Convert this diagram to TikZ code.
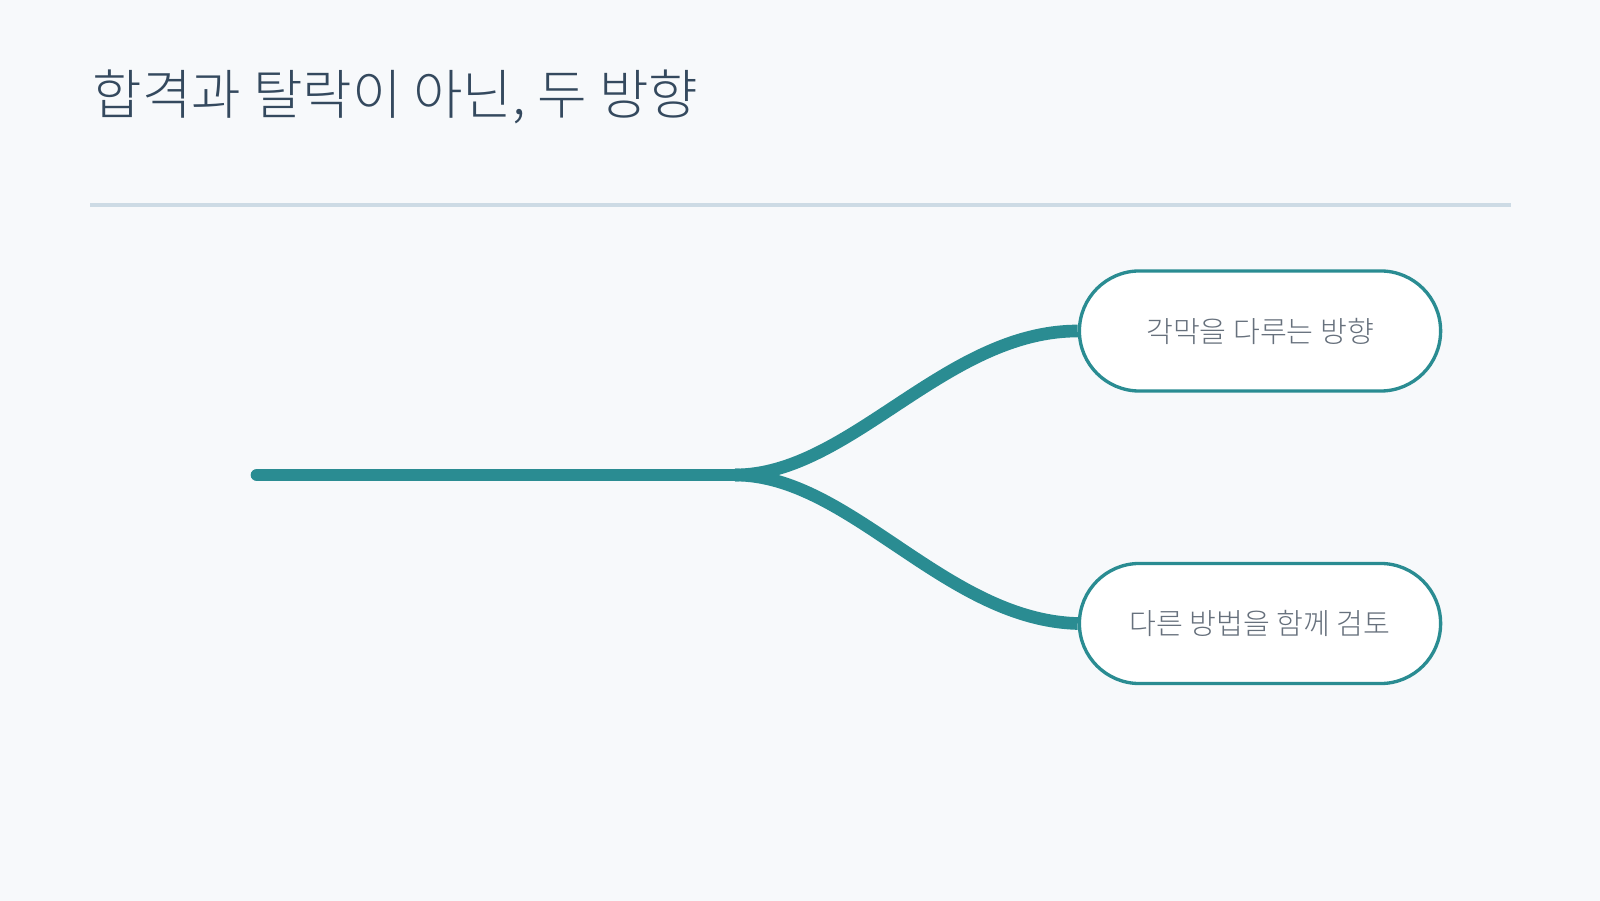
\documentclass[tikz,border=0pt]{standalone}
\usepackage{fontspec}
\setmainfont{Noto Sans CJK KR Light}
\usepackage{tikz}
\usetikzlibrary{positioning}
\definecolor{bgpaper}{HTML}{F7F9FB}
\definecolor{titleink}{HTML}{34495E}
\definecolor{ruleline}{HTML}{CDDBE5}
\definecolor{teal}{HTML}{2A8C92}
\definecolor{labelink}{HTML}{66707C}

\begin{document}
\begin{tikzpicture}[x=0.01cm, y=-0.01cm, node distance=1.69cm,
  pathbox/.style={draw=teal, line width=0.95pt, fill=white, rounded corners=0.6cm,
    minimum width=3.61cm, minimum height=1.2cm, text=labelink,
    font=\fontsize{8.3}{10}\selectfont},
  trunk/.style={draw=teal, line width=3.6pt, line cap=round},
  branch/.style={draw=teal, line width=3.6pt}]

% background and page margins
\fill[bgpaper] (0,0) rectangle (1600,901);

% title and rule under it
\node[anchor=base west, inner sep=0, text=titleink, font=\fontsize{15.3}{18}\selectfont] (title) at (92,115) {합격과 탈락이 아닌, 두 방향};
\draw[ruleline, line width=0.9pt] (90,205) coordinate (ruleL) -- (1511,205) coordinate (ruleR);

% the two directions
\node[pathbox] (manage) at (1260,331) {각막을 다루는 방향};
\node[pathbox, below=of manage] (review) {다른 방법을 함께 검토};

% trunk and its fork
\coordinate (start) at (257,475);
\coordinate (fork) at (735,475);
\draw[trunk] (start) -- (fork);
\draw[branch] (fork) .. controls (850,475) and (945,331) .. (manage.west);
\draw[branch] (fork) .. controls (850,475) and (945,620) .. (review.west);

\end{tikzpicture}
\end{document}
